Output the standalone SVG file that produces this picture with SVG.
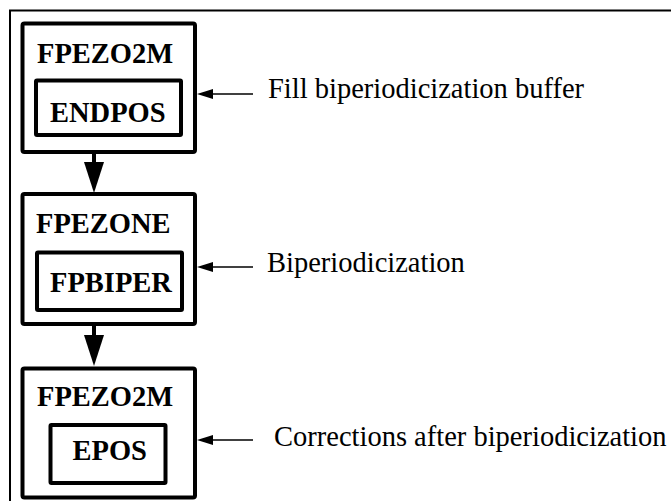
<svg xmlns="http://www.w3.org/2000/svg" width="671" height="501" viewBox="0 0 671 501">
<style>
.box{fill:none;stroke:#000;stroke-width:4;stroke-linejoin:round}
.t{font-family:"Liberation Serif","Times New Roman",serif;font-size:28.5px;fill:#000}
.b{font-weight:bold}
.thin{stroke:#000;stroke-width:1.5;fill:none}
.thick{stroke:#000;stroke-width:4;fill:none}
</style>
<rect x="0" y="0" width="671" height="501" fill="#fff"/>
<path d="M10 520 V10.5 H690" fill="none" stroke="#000" stroke-width="2"/>
<g id="n1">
<rect class="box" x="22.5" y="23.5" width="172.5" height="128.5" rx="2"/>
<text class="t b" x="37" y="63">FPEZO2M</text>
<g id="n1a">
<rect class="box" x="36" y="80.5" width="145" height="54.5" rx="1"/>
<text class="t b" x="50" y="122">ENDPOS</text>
</g>
</g>
<g id="n2">
<rect class="box" x="22.5" y="194" width="172.5" height="130" rx="2"/>
<text class="t b" x="36" y="233">FPEZONE</text>
<g id="n2a">
<rect class="box" x="37" y="252.5" width="145" height="57.5" rx="1"/>
<text class="t b" x="50" y="292">FPBIPER</text>
</g>
</g>
<g id="n3">
<rect class="box" x="22.5" y="368.5" width="172.5" height="129" rx="2"/>
<text class="t b" x="37" y="406">FPEZO2M</text>
<g id="n3a">
<rect class="box" x="50.5" y="425" width="115" height="58" rx="1"/>
<text class="t b" x="72.5" y="460">EPOS</text>
</g>
</g>
<g id="labels">
<text class="t" x="268" y="98">Fill biperiodicization buffer</text>
<text class="t" x="267" y="272">Biperiodicization</text>
<text class="t" x="274" y="446">Corrections after biperiodicization</text>
</g>
<g id="connectors">
<line class="thick" x1="94" y1="152" x2="94" y2="164"/>
<polygon points="84,162 104,162 94,193"/>
<line class="thick" x1="94" y1="324" x2="94" y2="337"/>
<polygon points="84,335 104,335 94,366"/>
<line class="thin" x1="253" y1="94" x2="210" y2="94"/>
<polygon points="197,94 213,89 213,99"/>
<line class="thin" x1="253" y1="267" x2="210" y2="267"/>
<polygon points="197,267 213,262 213,272"/>
<line class="thin" x1="253" y1="440" x2="210" y2="440"/>
<polygon points="197,440 213,435 213,445"/>
</g>
</svg>
